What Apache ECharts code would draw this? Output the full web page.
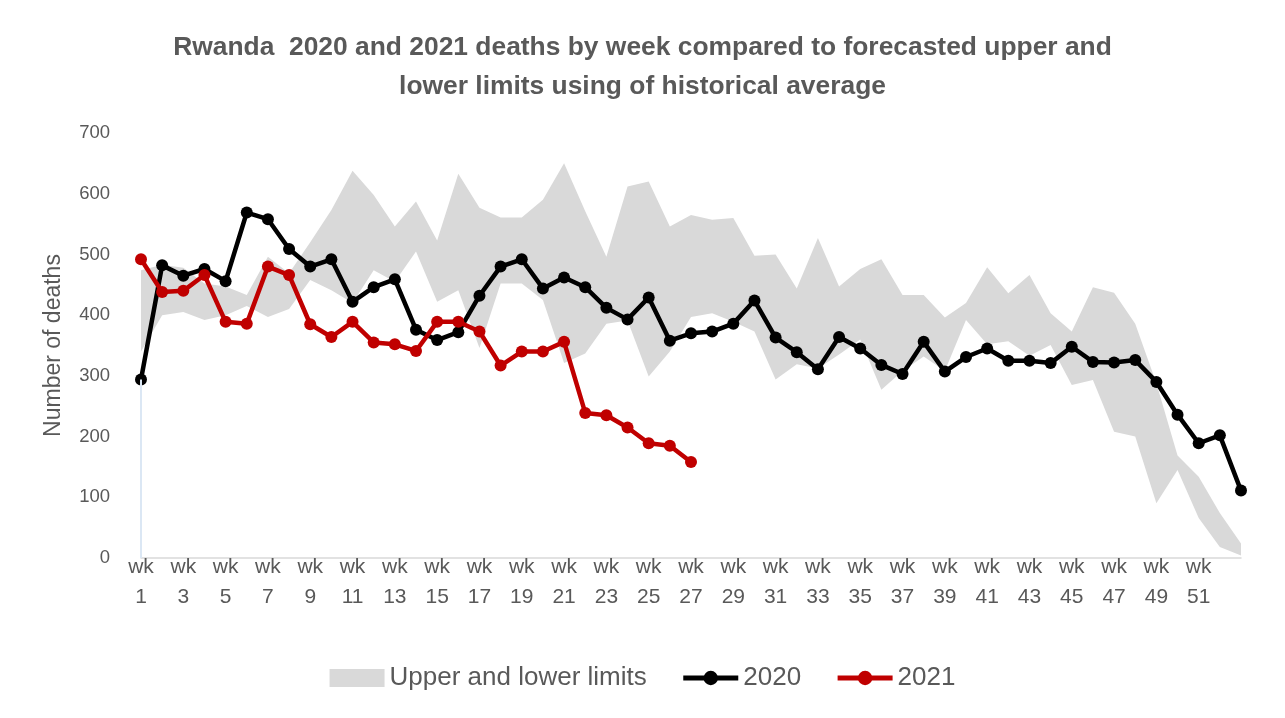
<!DOCTYPE html>
<html>
<head>
<meta charset="utf-8">
<script src="https://cdn.jsdelivr.net/npm/echarts@6/dist/echarts.min.js"></script>
<style>
  html, body { margin: 0; padding: 0; background: #fff; }
  #chart { width: 1285px; height: 718px; }
</style>
</head>
<body>
<div id="chart"></div>
<script>
// week categories
const weeks = ['wk 1','wk 2','wk 3','wk 4','wk 5','wk 6','wk 7','wk 8','wk 9','wk 10',
  'wk 11','wk 12','wk 13','wk 14','wk 15','wk 16','wk 17','wk 18','wk 19','wk 20',
  'wk 21','wk 22','wk 23','wk 24','wk 25','wk 26','wk 27','wk 28','wk 29','wk 30',
  'wk 31','wk 32','wk 33','wk 34','wk 35','wk 36','wk 37','wk 38','wk 39','wk 40',
  'wk 41','wk 42','wk 43','wk 44','wk 45','wk 46','wk 47','wk 48','wk 49','wk 50',
  'wk 51','wk 52','wk 53'];

// forecast limits (historical average)
const lowerLimit = [340, 400, 405, 392, 400, 415, 397, 410, 458, 441,
  420, 474, 455, 505, 422, 441, 346, 452, 452, 425,
  321, 337, 386, 391, 299, 340, 397, 403, 389, 373,
  294, 319, 312, 335, 360, 277, 308, 332, 308, 392,
  352, 357, 333, 351, 285, 293, 208, 200, 90, 145,
  66, 18, 4];
const upperLimit = [474, 483, 478, 452, 447, 433, 496, 469, 520, 573,
  638, 598, 546, 587, 523, 633, 577, 561, 561, 590,
  650, 571, 496, 612, 620, 546, 565, 557, 560, 498,
  500, 444, 527, 447, 476, 492, 433, 433, 396, 420,
  479, 436, 466, 403, 373, 446, 437, 386, 288, 169,
  134, 74, 24];

// weekly deaths
const deaths2020 = [294, 482, 465, 476, 456, 569, 558, 509, 480, 492,
  422, 446, 459, 376, 359, 372, 432, 480, 492, 444,
  462, 446, 412, 393, 429, 358, 370, 373, 386, 424,
  363, 339, 311, 364, 345, 318, 303, 356, 307, 331,
  345, 325, 325, 321, 348, 323, 322, 326, 290, 236,
  189, 202, 111];
const deaths2021 = [492, 438, 440, 466, 389, 386, 480, 466, 385, 364,
  389, 355, 352, 341, 389, 389, 373, 317, 340, 340,
  356, 239, 235, 215, 189, 185, 158];

const bandWidth = upperLimit.map((u, i) => u - lowerLimit[i]);

const font = 'Liberation Sans, Arial, sans-serif';
const grey = '#595959';

const chart = echarts.init(document.getElementById('chart'));
chart.setOption({
  animation: false,
  backgroundColor: '#fff',
  textStyle: { fontFamily: font },
  title: {
    text: 'Rwanda  2020 and 2021 deaths by week compared to forecasted upper and\nlower limits using of historical average',
    left: 'center',
    top: 23,
    textStyle: { fontSize: 26.4, fontWeight: 'bold', color: grey, lineHeight: 39, fontFamily: font }
  },
  grid: { left: 141, right: 44, top: 133, bottom: 160 },
  legend: {
    bottom: 22,
    left: 'center',
    itemWidth: 55,
    itemHeight: 18,
    itemGap: 34,
    textStyle: { fontSize: 26, color: grey, fontFamily: font },
    lineStyle: { width: 5 },
    data: [
      { name: 'Upper and lower limits', icon: 'rect' },
      { name: '2020' },
      { name: '2021' }
    ]
  },
  xAxis: {
    type: 'category',
    data: weeks,
    boundaryGap: false,
    axisTick: { show: false },
    axisLine: { lineStyle: { color: '#d9d9d9', width: 1.5 } },
    axisLabel: {
      interval: (i) => i % 2 === 0 && i < 52,
      margin: -6,
      fontSize: 21,
      lineHeight: 30,
      color: grey,
      formatter: v => v.replace(' ', '\n')
    }
  },
  yAxis: {
    type: 'value',
    min: 0,
    max: 700,
    interval: 100,
    name: 'Number of deaths',
    nameLocation: 'middle',
    nameGap: 76,
    nameTextStyle: { fontSize: 23, color: grey },
    splitLine: { show: false },
    axisLine: { show: false },
    axisTick: { show: false },
    axisLabel: { fontSize: 18.5, color: grey, margin: 31 }
  },
  series: [
    {
      name: 'lower',
      type: 'line',
      stack: 'band',
      data: lowerLimit,
      symbol: 'none',
      silent: true,
      lineStyle: { opacity: 0 },
      areaStyle: { opacity: 0 }
    },
    {
      name: 'Upper and lower limits',
      type: 'line',
      stack: 'band',
      data: bandWidth,
      symbol: 'none',
      silent: true,
      itemStyle: { color: '#d9d9d9' },
      lineStyle: { width: 0, opacity: 0 },
      areaStyle: { color: '#d9d9d9', opacity: 1 }
    },
    {
      name: '2020',
      type: 'line',
      data: deaths2020,
      symbol: 'circle',
      symbolSize: 12,
      itemStyle: { color: '#000' },
      lineStyle: { color: '#000', width: 4.5 },
      markLine: {
        silent: true,
        symbol: 'none',
        label: { show: false },
        lineStyle: { color: '#dbe7f4', width: 2, type: 'solid' },
        data: [[{ coord: [weeks[0], 0] }, { coord: [weeks[0], deaths2020[0]] }]]
      },
      z: 3
    },
    {
      name: '2021',
      type: 'line',
      data: deaths2021,
      symbol: 'circle',
      symbolSize: 12,
      itemStyle: { color: '#c00000' },
      lineStyle: { color: '#c00000', width: 4.5 },
      z: 4
    }
  ]
});
</script>
</body>
</html>
